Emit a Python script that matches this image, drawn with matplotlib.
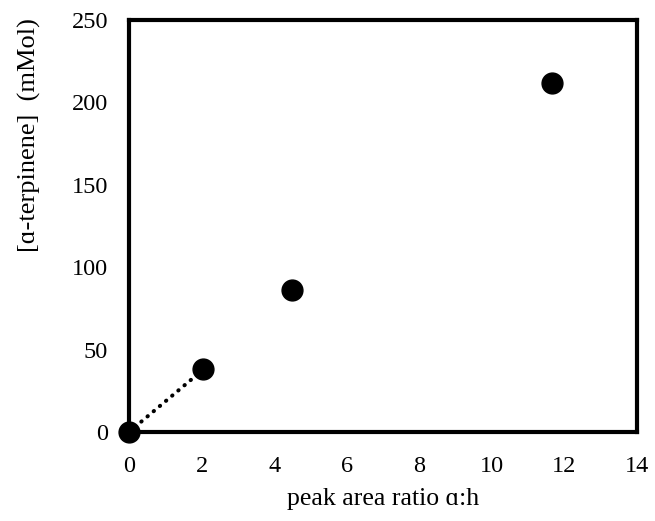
import matplotlib
matplotlib.use('Agg')
import matplotlib.pyplot as plt

plt.rcParams['font.family'] = ['Liberation Serif', 'DejaVu Sans']

# donnees
ratio = [0.0, 2.05, 4.5, 11.65]
conc = [0.0, 38.0, 86.0, 212.0]
x_ticks = [0, 2, 4, 6, 8, 10, 12, 14]
y_ticks = [0, 50, 100, 150, 200, 250]

fig = plt.figure(figsize=(6.55, 5.21), dpi=100)
ax = fig.add_axes([129 / 655, 1 - 432 / 521, (637 - 129) / 655, (432 - 20) / 521])

# ligne pointillee entre les deux premiers points
ax.plot(ratio[:2], conc[:2], color='black', linestyle=(0, (0.1, 1.9)),
        linewidth=2.9, dash_capstyle='round', zorder=2)
ax.plot(ratio, conc, 'o', color='black', markersize=15, clip_on=False, zorder=3)

ax.set_xlim(0, 14)
ax.set_ylim(0, 250)
ax.set_xticks(x_ticks)
ax.set_yticks(y_ticks)
ax.tick_params(length=0, labelsize=17.5)
ax.tick_params(axis='y', pad=15)
ax.tick_params(axis='x', pad=17)
for s in ax.spines.values():
    s.set_linewidth(3)

ax.set_xlabel('peak area ratio \u0251:h', fontsize=18.5)
ax.set_ylabel('[\u0251-terpinene]  (mMol)', fontsize=19)
ax.xaxis.set_label_coords(0.50, -0.135)
ax.yaxis.set_label_coords(-0.173, 0.72)

fig.savefig('out.png', dpi=100)
